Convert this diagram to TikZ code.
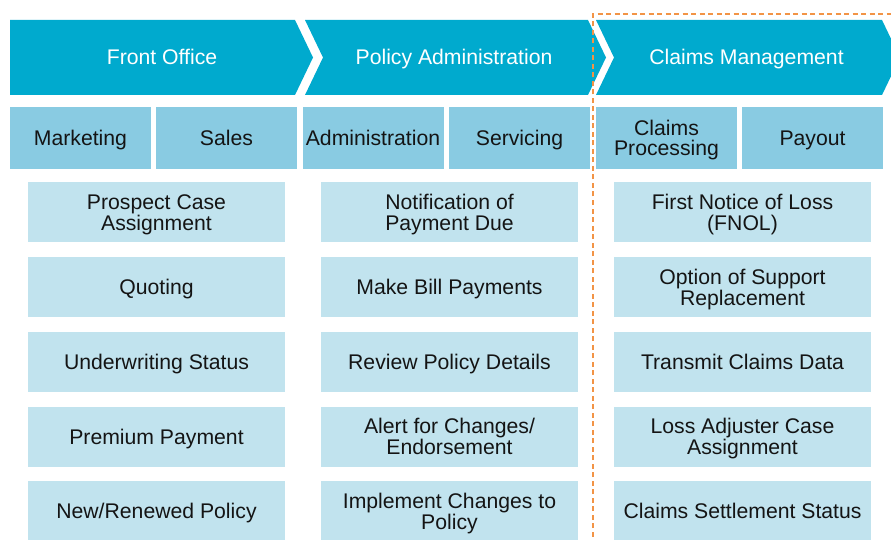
\documentclass[tikz,border=0pt]{standalone}
\usepackage{fontspec}
\setmainfont{Liberation Sans}
\definecolor{chev}{RGB}{0,170,206}
\definecolor{subh}{RGB}{137,203,226}
\definecolor{item}{RGB}{193,227,238}
\definecolor{dash}{RGB}{242,148,70}
\definecolor{ink}{RGB}{20,20,20}
\newcommand\twol[3][10.5pt]{\makebox[0pt]{\raisebox{#1}{#2}}\makebox[0pt]{\raisebox{-#1}{#3}}}
\tikzset{
  basetext/.style={font=\fontsize{21.2}{23}\selectfont,inner sep=0pt,text height=15.2pt,text depth=0pt},
  chevtext/.style={basetext,text=white},
  subbox/.style={basetext,fill=subh,minimum width=141pt,minimum height=62pt,text=ink},
  itembox/.style={basetext,fill=item,minimum width=257pt,minimum height=60pt,text=ink},
  orangedash/.style={draw=dash,line width=1.6pt,dash pattern=on 5pt off 3.5pt}
}
\begin{document}
\begin{tikzpicture}[x=1pt,y=-1pt]
\useasboundingbox (0,0) rectangle (891,540);
\clip (0,0) rectangle (891,540);
% chevrons
\fill[chev] (10,20) -- (295,20) -- (313,57.5) -- (295,95) -- (10,95) -- cycle;
\fill[chev] (305,20) -- (588,20) -- (606,57.5) -- (588,95) -- (305,95) -- (323,57.5) -- cycle;
\fill[chev] (596,20) -- (882,20) -- (900,57.5) -- (882,95) -- (596,95) -- (614,57.5) -- cycle;
\node[chevtext] (fo) at (162,57) {Front Office};
\node[chevtext] (pa) at (454,57) {Policy Administration};
\node[chevtext] (cm) at (746.5,57) {Claims Management};
% sub headers
\node[subbox] (mkt) at (80.5,138) {Marketing};
\node[subbox] (sal) at (226.5,138) {Sales};
\node[subbox] (adm) at (373,138) {Administration};
\node[subbox] (ser) at (519.5,138) {Servicing};
\node[subbox] (cp) at (666.5,138) {\twol[10pt]{Claims}{Processing}};
\node[subbox] (pay) at (812.5,138) {Payout};
% column 1
\node[itembox] (a1) at (156.5,212) {\twol{Prospect Case}{Assignment}};
\node[itembox] (a2) at (156.5,287) {Quoting};
\node[itembox] (a3) at (156.5,362) {Underwriting Status};
\node[itembox] (a4) at (156.5,436.5) {Premium Payment};
\node[itembox] (a5) at (156.5,511) {New/Renewed Policy};
% column 2
\node[itembox] (b1) at (449.5,212) {\twol{Notification of}{Payment Due}};
\node[itembox] (b2) at (449.5,287) {Make Bill Payments};
\node[itembox] (b3) at (449.5,362) {Review Policy Details};
\node[itembox] (b4) at (449.5,436.5) {\twol{Alert for Changes/}{Endorsement}};
\node[itembox] (b5) at (449.5,511) {\twol{Implement Changes to}{Policy}};
% column 3
\node[itembox] (c1) at (742.5,212) {\twol{First Notice of Loss}{(FNOL)}};
\node[itembox] (c2) at (742.5,287) {\twol{Option of Support}{Replacement}};
\node[itembox] (c3) at (742.5,362) {Transmit Claims Data};
\node[itembox] (c4) at (742.5,436.5) {\twol{Loss Adjuster Case}{Assignment}};
\node[itembox] (c5) at (742.5,511) {Claims Settlement Status};
% orange dashed frame
\coordinate (d1) at (593,545);
\coordinate (d2) at (593,14);
\coordinate (d3) at (895,14);
\draw[orangedash] (d1) -- (d2) -- (d3);
\end{tikzpicture}
\end{document}
